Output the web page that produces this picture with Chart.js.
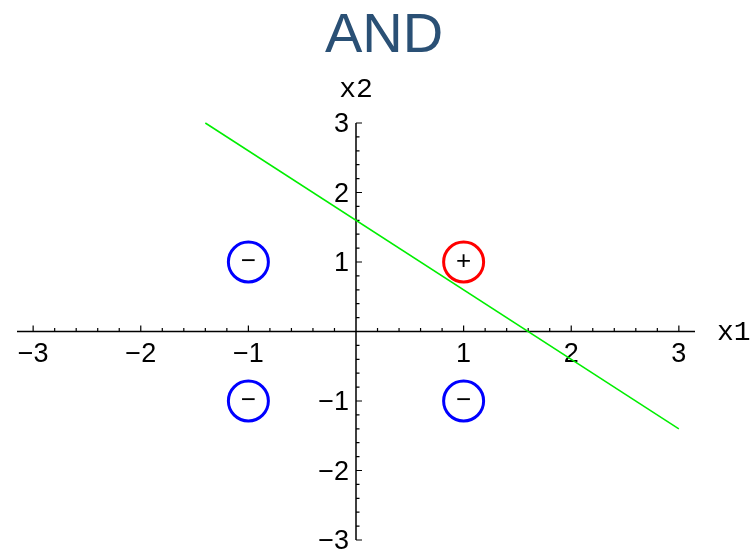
<!DOCTYPE html>
<html>
<head>
<meta charset="utf-8">
<script src="https://cdn.jsdelivr.net/npm/chart.js@4/dist/chart.umd.min.js"></script>
<style>
  html, body { margin: 0; padding: 0; background: #fff; }
  #wrap { width: 756px; height: 551px; }
</style>
</head>
<body>
<div id="wrap"><canvas id="andChart" width="756" height="551"></canvas></div>
<script>
// data
const titleText = 'AND';
const xLabel = 'x1';
const yLabel = 'x2';
const xTicks = [-3, -2, -1, 1, 2, 3];
const yTicks = [-3, -2, -1, 1, 2, 3];
const pointsX = [1, -1, -1, 1];
const pointsY = [1, 1, -1, -1];
const pointSigns = ['+', '\u2212', '\u2212', '\u2212'];
const pointColors = ['#ff0000', '#0000ff', '#0000ff', '#0000ff'];
const lineX = [-1.4, 3];
const lineY = [3, -1.4];

const monoFont = '"Liberation Mono", "DejaVu Sans Mono", monospace';
const sansFont = '"Liberation Sans", Arial, sans-serif';

function fmt(v) {
    return v < 0 ? '\u2212' + Math.abs(v) : String(v);
}

// axes drawn through the origin, Mathematica style
const axesPlugin = {
    id: 'axesPlugin',
    beforeDatasetsDraw(chart) {
        const c = chart.ctx;
        const xs = chart.scales.x, ys = chart.scales.y;
        const x0 = xs.getPixelForValue(0);
        const y0 = ys.getPixelForValue(0);
        c.save();
        c.strokeStyle = '#000';
        c.lineWidth = 1.5;
        c.beginPath();
        c.moveTo(xs.left, y0); c.lineTo(xs.right, y0);
        c.moveTo(x0, ys.top); c.lineTo(x0, ys.bottom);
        c.stroke();

        // minor + major ticks
        c.lineWidth = 1.2;
        c.beginPath();
        for (let i = -15; i <= 15; i++) {
            const v = i / 5;
            if (i === 0) continue;
            const len = (i % 5 === 0) ? 6 : 3.5;
            const px = xs.getPixelForValue(v);
            if (px >= xs.left && px <= xs.right) {
                c.moveTo(px, y0); c.lineTo(px, y0 - len);
            }
            const py = ys.getPixelForValue(v);
            if (py >= ys.top - 0.5 && py <= ys.bottom + 0.5) {
                c.moveTo(x0, py); c.lineTo(x0 + len, py);
            }
        }
        c.stroke();

        // tick labels
        c.fillStyle = '#000';
        c.font = '27px ' + sansFont;
        c.textAlign = 'center';
        c.textBaseline = 'top';
        xTicks.forEach(v => {
            c.fillText(fmt(v), xs.getPixelForValue(v), y0 + 10);
        });
        c.textAlign = 'right';
        c.textBaseline = 'middle';
        yTicks.forEach(v => {
            c.fillText(fmt(v), x0 - 7, ys.getPixelForValue(v) + 2);
        });

        // axis names
        c.font = '28px ' + monoFont;
        c.textAlign = 'left';
        c.textBaseline = 'middle';
        c.fillText(xLabel, xs.right + 22, y0 + 1);
        c.textAlign = 'center';
        c.textBaseline = 'alphabetic';
        c.fillText(yLabel, x0, ys.top - 26);

        // title
        c.fillStyle = '#2a5075';
        c.font = '56px ' + sansFont;
        c.textAlign = 'center';
        c.textBaseline = 'alphabetic';
        c.fillText(titleText, 384, 52);
        c.restore();
    },
    afterDatasetsDraw(chart) {
        const c = chart.ctx;
        const meta = chart.getDatasetMeta(1);
        c.save();
        c.fillStyle = '#000';
        c.font = '26px ' + sansFont;
        c.textAlign = 'center';
        c.textBaseline = 'middle';
        meta.data.forEach((el, i) => {
            c.fillText(pointSigns[i], el.x, el.y);
        });
        c.restore();
    }
};

const ctx = document.getElementById('andChart').getContext('2d');
const chart = new Chart(ctx, {
    type: 'scatter',
    data: {
        datasets: [
            {
                type: 'line',
                data: lineX.map((x, i) => ({ x: x, y: lineY[i] })),
                borderColor: '#00ee00',
                borderWidth: 1.5,
                pointRadius: 0,
                fill: false,
                clip: false
            },
            {
                data: pointsX.map((x, i) => ({ x: x, y: pointsY[i] })),
                pointRadius: 20,
                pointBorderWidth: 3,
                borderColor: pointColors,
                pointBorderColor: pointColors,
                backgroundColor: 'rgba(255,255,255,0)',
                pointBackgroundColor: 'rgba(255,255,255,0)',
                clip: false
            }
        ]
    },
    options: {
        responsive: false,
        animation: false,
        layout: { autoPadding: false, padding: { left: 17, right: 61, top: 123, bottom: 11 } },
        scales: {
            x: { type: 'linear', min: -3.15, max: 3.15, display: false },
            y: { type: 'linear', min: -3, max: 3, display: false }
        },
        plugins: {
            legend: { display: false },
            tooltip: { enabled: false }
        }
    },
    plugins: [axesPlugin]
});
</script>
</body>
</html>
